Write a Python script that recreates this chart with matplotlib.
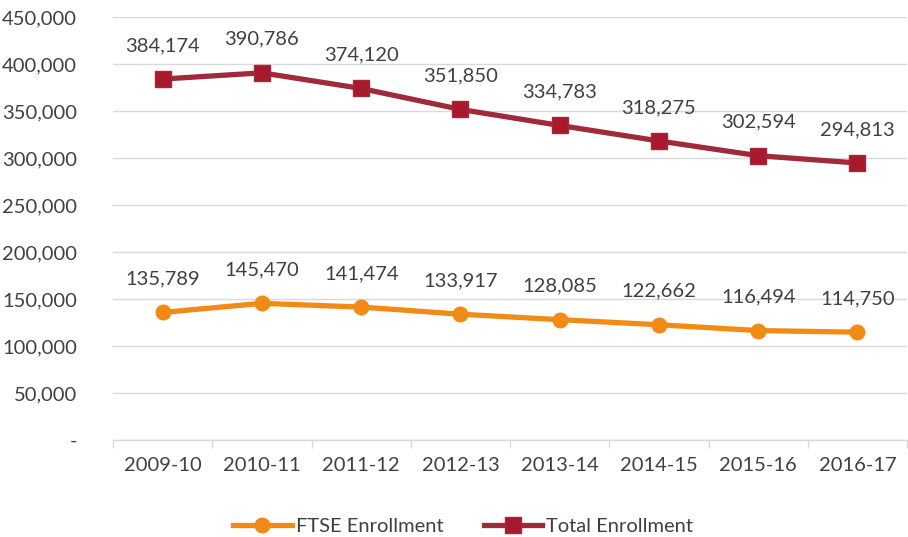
import matplotlib
matplotlib.use("Agg")
import matplotlib.pyplot as plt
from matplotlib.ticker import FuncFormatter, FixedLocator

years = ["2009-10", "2010-11", "2011-12", "2012-13", "2013-14", "2014-15", "2015-16", "2016-17"]
ftse = [135789, 145470, 141474, 133917, 128085, 122662, 116494, 114750]
total = [384174, 390786, 374120, 351850, 334783, 318275, 302594, 294813]

plt.rcParams['font.family'] = ['Lato', 'DejaVu Sans']
txt = '#404040'
orange = '#F28A16'
maroon = '#9E2A3A'
fs = 14.5

fig = plt.figure(figsize=(9.08, 5.37), dpi=100)
ax = fig.add_axes([0.1245, 0.1806, 0.8745, 0.7874])
x = list(range(len(years)))
ax.plot(x, ftse, color=orange, lw=3.8, marker='o', ms=10.5, mfc=orange, mec=orange, label='FTSE Enrollment', zorder=3)
ax.plot(x, total, color=maroon, lw=3.8, marker='s', ms=11, mfc='#A8192E', mec='#9E2A3A', label='Total Enrollment', zorder=3)

for xi, v in zip(x, ftse):
    ax.annotate(f"{v:,}", (xi, v), xytext=(0, 18), textcoords='offset points', ha='center', va='bottom', fontsize=fs, color=txt)
for xi, v in zip(x, total):
    ax.annotate(f"{v:,}", (xi, v), xytext=(0, 18), textcoords='offset points', ha='center', va='bottom', fontsize=fs, color=txt)

ax.set_xlim(-0.5, len(years) - 0.5)
ax.set_ylim(0, 450000)
ax.set_yticks(range(0, 450001, 50000))
ax.yaxis.set_major_formatter(FuncFormatter(lambda v, p: '-' if v == 0 else f"{int(v):,}"))
ax.grid(axis='y', color='#D9D9D9', lw=1)
ax.set_axisbelow(True)
for s in ['top', 'right', 'left']:
    ax.spines[s].set_visible(False)
ax.spines['bottom'].set_color('#D9D9D9')
ax.spines['bottom'].set_linewidth(1)
ax.tick_params(axis='y', length=0, labelsize=fs, labelcolor=txt, pad=26)
ax.set_xticks(x)
ax.set_xticklabels(years)
ax.tick_params(axis='x', length=0, labelsize=fs, labelcolor=txt, pad=12)
ax.xaxis.set_minor_locator(FixedLocator([i - 0.5 for i in range(len(years) + 1)]))
ax.tick_params(axis='x', which='minor', length=6, color='#D9D9D9', width=1)

fig.legend(loc='lower center', bbox_to_anchor=(0.51, -0.03), ncol=2, frameon=False, fontsize=fs,
           labelcolor=txt, handlelength=2.9, columnspacing=2.0, handletextpad=0.2)
fig.savefig('out.png', dpi=100)
